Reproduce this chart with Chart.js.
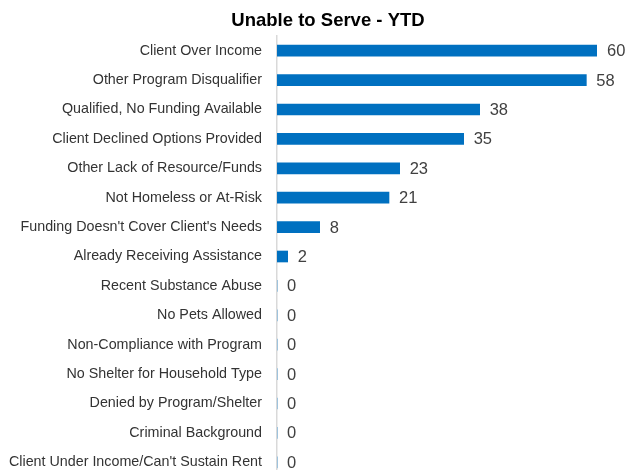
<!DOCTYPE html>
<html>
<head>
<meta charset="utf-8">
<script src="https://cdn.jsdelivr.net/npm/chart.js@4"></script>
<style>
  html, body { margin: 0; padding: 0; background: #fff; overflow: hidden; }
  canvas { display: block; }
</style>
</head>
<body>
<canvas id="myChart" width="627" height="478"></canvas>
<script>
var chartTitle = 'Unable to Serve - YTD';
var categories = [
  'Client Over Income',
  'Other Program Disqualifier',
  'Qualified, No Funding Available',
  'Client Declined Options Provided',
  'Other Lack of Resource/Funds',
  'Not Homeless or At-Risk',
  "Funding Doesn't Cover Client's Needs",
  'Already Receiving Assistance',
  'Recent Substance Abuse',
  'No Pets Allowed',
  'Non-Compliance with Program',
  'No Shelter for Household Type',
  'Denied by Program/Shelter',
  'Criminal Background',
  "Client Under Income/Can't Sustain Rent"
];
var counts = [60, 58, 38, 35, 23, 21, 8, 2, 0, 0, 0, 0, 0, 0, 0];

var fontName = "'Liberation Sans', Arial, sans-serif";

// 數值標籤
var valueLabels = {
  id: 'valueLabels',
  afterDatasetsDraw: function (chart) {
    var ctx = chart.ctx;
    var meta = chart.getDatasetMeta(0);
    ctx.save();
    ctx.font = '16.5px ' + fontName;
    ctx.fillStyle = '#404040';
    ctx.textAlign = 'left';
    ctx.textBaseline = 'middle';
    meta.data.forEach(function (bar, i) {
      ctx.fillText(String(counts[i]), bar.x + 10, bar.y + 1);
    });
    ctx.restore();
  }
};

// 標題 (not centered on the canvas in the original)
var titlePlugin = {
  id: 'titlePlugin',
  afterDraw: function (chart) {
    var ctx = chart.ctx;
    ctx.save();
    ctx.font = 'bold 18.5px ' + fontName;
    ctx.fillStyle = '#000';
    ctx.textAlign = 'center';
    ctx.textBaseline = 'middle';
    ctx.fillText(chartTitle, 328, 21);
    ctx.restore();
  }
};

new Chart('myChart', {
  type: 'bar',
  data: {
    labels: categories,
    datasets: [{
      data: counts,
      backgroundColor: '#0070C0',
      borderWidth: 0,
      barThickness: 11
    }]
  },
  options: {
    indexAxis: 'y',
    responsive: false,
    animation: false,
    layout: { padding: { top: 36, right: 30, bottom: 1, left: 0 } },
    plugins: {
      legend: { display: false },
      title: { display: false },
      tooltip: { enabled: false }
    },
    scales: {
      x: {
        display: false,
        min: 0,
        max: 60
      },
      y: {
        grid: { display: false, drawTicks: false },
        border: { display: true, color: '#d9d9d9', width: 1.5 },
        ticks: {
          padding: 15,
          color: '#333',
          font: { family: fontName, size: 14.3 }
        },
        afterFit: function (scale) {
          scale.width = 277;
          // tick padding would otherwise eat the bottom of the plot
          scale.paddingTop = 0;
          scale.paddingBottom = 0;
        }
      }
    }
  },
  plugins: [valueLabels, titlePlugin]
});
</script>
</body>
</html>
